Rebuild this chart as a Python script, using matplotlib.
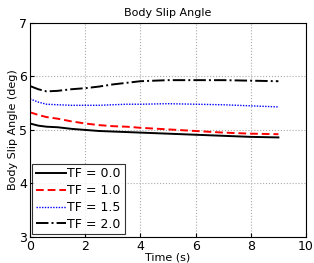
import numpy as np
import matplotlib
matplotlib.use("Agg")
import matplotlib.pyplot as plt

t = [0, 0.3, 0.6, 1, 1.5, 2, 2.5, 3, 3.5, 4, 5, 6, 7, 8, 9]
tf00 = [5.12, 5.08, 5.06, 5.05, 5.02, 5.0, 4.98, 4.97, 4.96, 4.95, 4.93, 4.91, 4.89, 4.87, 4.86]
tf10 = [5.33, 5.28, 5.24, 5.21, 5.16, 5.12, 5.09, 5.07, 5.06, 5.04, 5.01, 4.98, 4.95, 4.93, 4.92]
tf15 = [5.58, 5.52, 5.48, 5.47, 5.46, 5.46, 5.46, 5.47, 5.48, 5.48, 5.49, 5.48, 5.47, 5.45, 5.43]
tf20 = [5.82, 5.76, 5.72, 5.73, 5.76, 5.78, 5.81, 5.85, 5.88, 5.91, 5.93, 5.93, 5.93, 5.92, 5.91]
labels = ["TF = 0.0", "TF = 1.0", "TF = 1.5", "TF = 2.0"]

fig = plt.figure(figsize=(3.14, 2.63), dpi=100)
ax = fig.add_axes([0.0955, 0.099, 0.879, 0.814])
ax.plot(t, tf00, color="black", lw=1.4, ls="-", label=labels[0])
ax.plot(t, tf10, color="red", lw=1.4, ls=(0, (4, 2)), label=labels[1])
ax.plot(t, tf15, color="blue", lw=1.0, ls=(0, (1, 1)), label=labels[2])
ax.plot(t, tf20, color="black", lw=1.4, ls="-.", label=labels[3])
ax.set_xlim(0, 10)
ax.set_ylim(3, 7)
ax.set_xticks([0, 2, 4, 6, 8, 10])
ax.set_yticks([3, 4, 5, 6, 7])
ax.grid(True, ls=":", color="#aaaaaa", lw=0.8)
ax.tick_params(labelsize=9, direction="in", length=3, pad=2)
ax.set_title("Body Slip Angle", fontsize=8, pad=5)
ax.set_xlabel("Time (s)", fontsize=8, labelpad=0)
ax.set_ylabel("Body Slip Angle (deg)", fontsize=8, labelpad=1)
leg = ax.legend(loc="lower left", fontsize=9, frameon=True, fancybox=False,
                edgecolor="black", handlelength=2.4, handletextpad=0.1,
                borderaxespad=0.2, labelspacing=0.3, borderpad=0.3)
leg.get_frame().set_linewidth(0.8)
fig.savefig("out.png", dpi=100)
